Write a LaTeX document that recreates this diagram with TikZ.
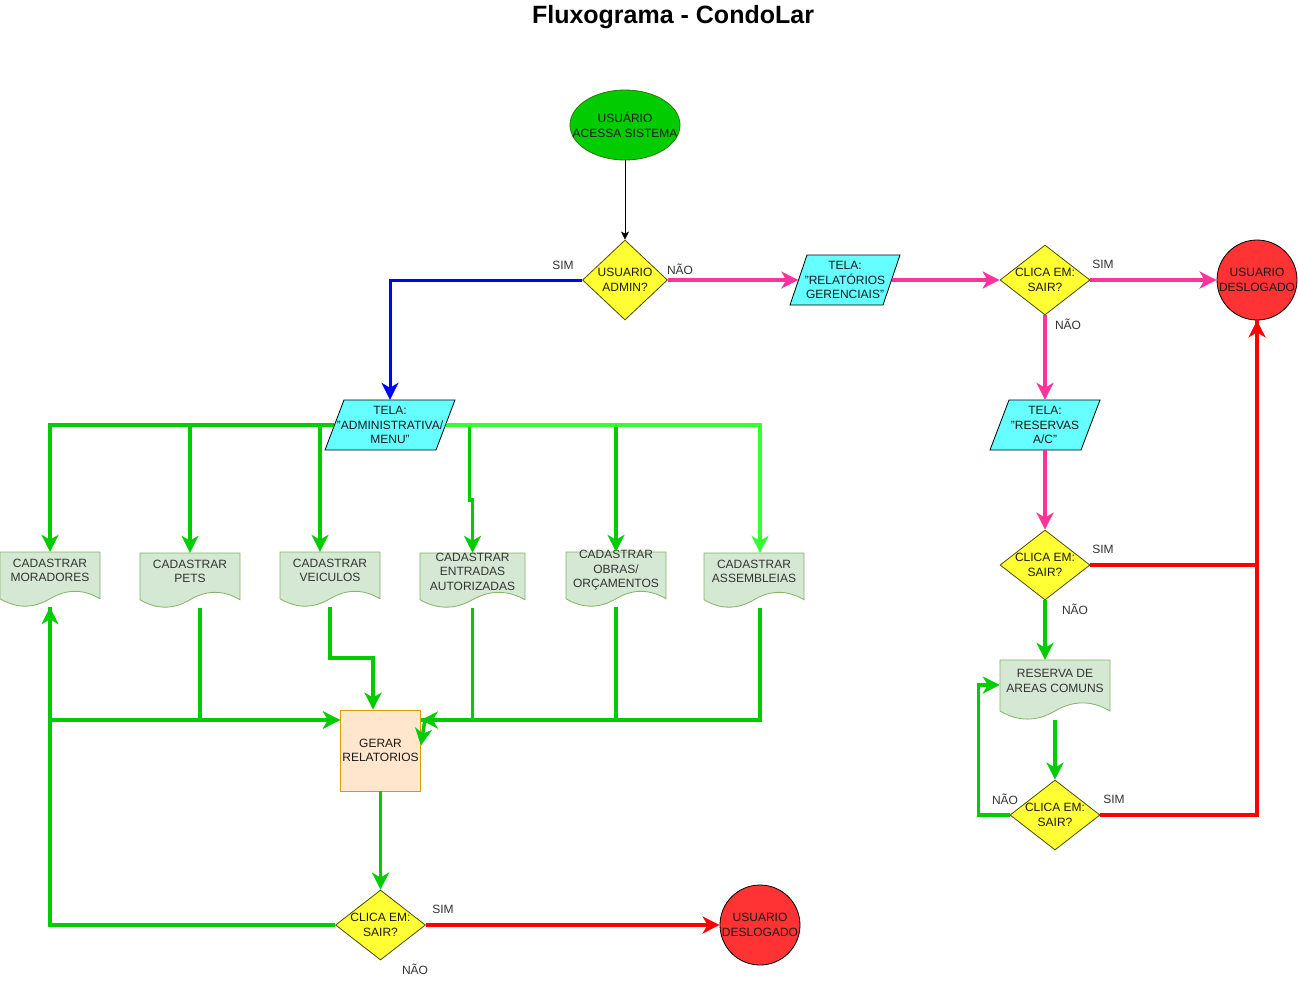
\documentclass[tikz,border=0pt]{standalone}
\usepackage{fontspec}
\setmainfont{Liberation Sans}
\usetikzlibrary{shapes.geometric,arrows.meta,calc}

\definecolor{gfill}{HTML}{00CC00}
\definecolor{gstroke}{HTML}{2D7600}
\definecolor{gline}{HTML}{00CC00}
\definecolor{glight}{HTML}{33FF33}
\definecolor{pinkl}{HTML}{FF3399}
\definecolor{redl}{HTML}{FF0000}
\definecolor{yelf}{HTML}{FFFF33}
\definecolor{yels}{HTML}{4D4D00}
\definecolor{cyanf}{HTML}{66FFFF}
\definecolor{docf}{HTML}{D5E8D4}
\definecolor{docs}{HTML}{82B366}
\definecolor{boxf}{HTML}{FFE6CC}
\definecolor{boxs}{HTML}{D79B00}
\definecolor{circf}{HTML}{FF3333}
\definecolor{txtc}{HTML}{1A1A1A}
\definecolor{labc}{HTML}{333333}

\tikzset{
  ntext/.style={align=center, text=txtc, font=\fontsize{12}{14.5}\selectfont, inner sep=0pt},
  doctext/.style={align=center, text=labc, font=\fontsize{12}{14.5}\selectfont, inner sep=0pt, yshift=9pt},
  docstyle/.style={draw=docs, fill=docf, line width=0.8pt},
  docnode/.style={rectangle, draw=none, inner sep=0pt},
  paranode/.style={rectangle, draw=none, inner sep=0pt, align=center, text=txtc, font=\fontsize{12}{14.5}\selectfont},
  parastyle/.style={draw=black, fill=cyanf, line width=0.8pt},
  dia/.style={diamond, draw=yels, fill=yelf, line width=0.8pt, inner sep=0pt},
  endc/.style={circle, draw=black, fill=circf, line width=0.8pt, minimum size=80pt, inner sep=0pt},
  edgelab/.style={text=labc, font=\fontsize{12}{14.5}\selectfont, inner sep=0pt},
  bigtip/.style={-{Stealth[length=17pt,width=17pt,inset=5pt]}},
  gl/.style={draw=gline, line width=3.5pt},
  gll/.style={draw=glight, line width=3.5pt},
  pl/.style={draw=pinkl, line width=3.5pt},
  rl/.style={draw=redl, line width=3.5pt},
  bl/.style={draw=blue, line width=3pt},
}

\newcommand\mkdoc[6]{% name, left, top, w, h, text
  \pgfmathsetmacro\dR{#2+#4}
  \pgfmathsetmacro\dM{#2+#4/2}
  \pgfmathsetmacro\dA{#2+5*#4/6}
  \pgfmathsetmacro\dB{#2+2*#4/3}
  \pgfmathsetmacro\dC{#2+#4/3}
  \pgfmathsetmacro\dD{#2+#4/6}
  \pgfmathsetmacro\dE{#3+#5-0.15*#5}
  \pgfmathsetmacro\dU{#3+#5-0.33*#5}
  \pgfmathsetmacro\dW{#3+#5+0.03*#5}
  \pgfmathsetmacro\dY{#3+#5/2}
  \draw[docstyle] (#2,#3) -- (\dR,#3) -- (\dR,\dE) .. controls (\dA,\dU) and (\dB,\dU) .. (\dM,\dE) .. controls (\dC,\dW) and (\dD,\dW) .. (#2,\dE) -- cycle;
  \node[docnode, minimum width=#4pt, minimum height=#5pt, label={[doctext]center:{#6}}] (#1) at (\dM,\dY) {};
}

\newcommand\mkpara[7]{% name, cx, cy, w, h, slant, text
  \pgfmathsetmacro\pL{#2-#4/2}
  \pgfmathsetmacro\pR{#2+#4/2}
  \pgfmathsetmacro\pLs{#2-#4/2+#6}
  \pgfmathsetmacro\pRs{#2+#4/2-#6}
  \pgfmathsetmacro\pT{#3-#5/2}
  \pgfmathsetmacro\pB{#3+#5/2}
  \pgfmathsetmacro\pW{#4-#6}
  \draw[parastyle] (\pLs,\pT) -- (\pR,\pT) -- (\pRs,\pB) -- (\pL,\pB) -- cycle;
  \node[paranode, minimum width=\pW pt, minimum height=#5pt] (#1) at (#2,#3) {#7};
}

\begin{document}
\begin{tikzpicture}[x=1pt,y=-1pt]
\useasboundingbox (0,0) rectangle (1298,980);
\fill[white] (0,0) rectangle (1298,980);

\node[font=\bfseries\fontsize{25}{29}\selectfont, text=black] (title) at (673,17) {Fluxograma - CondoLar};

% top flow
\node[ellipse, draw=gstroke, fill=gfill, line width=0.8pt, minimum width=110pt, minimum height=70pt, inner sep=0pt,
      label={[ntext]center:{USUÁRIO\\ACESSA SISTEMA}}] (start) at (625,125) {};
\node[dia, minimum width=85pt, minimum height=80pt, label={[ntext]center:{USUARIO\\ADMIN?}}] (admin) at (625,280) {};
\mkpara{rel}{845}{280}{110}{50}{17}{TELA:\\"RELATÓRIOS\\GERENCIAIS"}
\node[dia, minimum width=90pt, minimum height=70pt, label={[ntext]center:{CLICA EM:\\SAIR?}}] (d1) at (1045,280) {};
\node[endc, label={[ntext]center:{USUARIO\\DESLOGADO}}] (c1) at (1257,280) {};
\mkpara{res}{1045}{425}{110}{50}{19}{TELA:\\"RESERVAS\\A/C"}
\node[dia, minimum width=90pt, minimum height=70pt, label={[ntext]center:{CLICA EM:\\SAIR?}}] (d2) at (1045,565) {};
\mkdoc{rac}{1000}{660}{110}{60}{RESERVA DE\\AREAS COMUNS}
\node[dia, minimum width=90pt, minimum height=70pt, label={[ntext]center:{CLICA EM:\\SAIR?}}] (d3) at (1055,815) {};

% admin side
\mkpara{adm}{390}{425}{130}{50}{19}{TELA:\\"ADMINISTRATIVA/\\MENU"}
\mkdoc{mor}{0}{552}{100}{55}{CADASTRAR\\MORADORES}
\mkdoc{pets}{140}{553}{100}{55}{CADASTRAR\\PETS}
\mkdoc{veic}{280}{552}{100}{55}{CADASTRAR\\VEICULOS}
\mkdoc{entr}{420}{553}{105}{55}{CADASTRAR\\ENTRADAS\\AUTORIZADAS}
\mkdoc{obr}{566}{552}{100}{55}{CADASTRAR\\OBRAS/\\ORÇAMENTOS}
\mkdoc{ass}{704}{553}{100}{55}{CADASTRAR\\ASSEMBLEIAS}
\node[rectangle, draw=boxs, fill=boxf, line width=0.8pt, minimum width=80pt, minimum height=81pt, inner sep=0pt,
      align=center, text=txtc, font=\fontsize{12}{14.5}\selectfont] (ger) at (380.5,750.5) {GERAR\\RELATORIOS};
\node[dia, minimum width=90pt, minimum height=70pt, label={[ntext]center:{CLICA EM:\\SAIR?}}] (d4) at (380.5,925) {};
\node[endc, label={[ntext]center:{USUARIO\\DESLOGADO}}] (c2) at (760,925) {};

% edge labels
\node[edgelab] (l1) at (563,265) {SIM};
\node[edgelab] (l2) at (680,269) {NÃO};
\node[edgelab] (l3) at (1103,264) {SIM};
\node[edgelab] (l4) at (1068,324) {NÃO};
\node[edgelab] (l5) at (1103,549) {SIM};
\node[edgelab] (l6) at (1075,609) {NÃO};
\node[edgelab] (l7) at (1005,799) {NÃO};
\node[edgelab] (l8) at (1114,799) {SIM};
\node[edgelab] (l9) at (443,909) {SIM};
\node[edgelab] (l10) at (415,969) {NÃO};

% connectors: top
\draw[black, line width=0.8pt, -{Stealth[length=8pt,width=8pt,inset=2pt]}] (start.south) -- (admin.north);
\draw[bl, bigtip] (admin.west) -| (adm.north);
\draw[pl, bigtip] (admin.east) -- (rel.west);
\draw[pl, bigtip] (rel.east) -- (d1.west);
\draw[pl, bigtip] (d1.east) -- (c1.west);
\draw[pl, bigtip] (d1.south) -- (res.north);
\draw[pl, bigtip] (res.south) -- (d2.north);
\draw[rl, bigtip] (d2.east) -| (c1.south);
\draw[rl] (d3.east) -| (c1.south);
\draw[gl, bigtip] (d2.south) -- (d2.south |- rac.north);
\draw[gl, bigtip] (rac.south) -- (d3.north);
\draw[gl, bigtip] (d3.west) -- ++(-31,0) |- ([yshift=5pt]rac.west);

% connectors: admin menu
\draw[gl, bigtip] (adm.west) -| (mor.north);
\draw[gl, bigtip] (adm.west) -| (pets.north);
\draw[gl, bigtip] (adm.west) -| ([xshift=-10pt]veic.north);
\draw[gl, bigtip] (adm.east) -| ([xshift=-3pt,yshift=53pt]entr.north) -- ([yshift=53pt]entr.north) -- (entr.north);
\draw[gl, bigtip] (adm.east) -| (obr.north);
\draw[gll, bigtip] (adm.east) -| ([xshift=6pt]ass.north);

% connectors: to report
\draw[gl, bigtip] (mor.south) |- ([yshift=30.5pt]ger.west);
\draw[gl, bigtip] ([xshift=10pt]pets.south) |- ([yshift=30.5pt]ger.west);
\draw[gl, bigtip] (veic.south) -- ++(0,51) -| ([xshift=-7.5pt]ger.north);
\draw[gl] ([xshift=6pt]ass.south) |- ([yshift=30.5pt]ger.east);
\draw[gl] (obr.south) |- ([yshift=30.5pt]ger.east);
\draw[gl, bigtip] (entr.south) |- ([yshift=30.5pt]ger.east);
\draw[gl, bigtip] ([xshift=4pt,yshift=30.5pt]ger.east) -- ([yshift=5pt]ger.east);
\draw[gl, bigtip] (ger.south) -- (d4.north);
\draw[rl, bigtip] (d4.east) -- (c2.west);
\draw[gl, bigtip] (d4.west) -| (mor.south);
\end{tikzpicture}
\end{document}
